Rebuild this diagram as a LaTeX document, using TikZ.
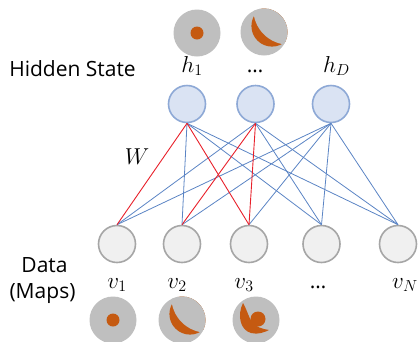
\documentclass[tikz,border=0pt]{standalone}
\usepackage{graphicx}
\usepackage{fontspec}
\setmainfont{Open Sans}
\definecolor{hidFill}{HTML}{DAE3F3}
\definecolor{hidEdge}{HTML}{8EA9D6}
\definecolor{visFill}{HTML}{F0F0F0}
\definecolor{visEdge}{HTML}{A6A6A6}
\definecolor{thumbGray}{HTML}{BFBFBF}
\definecolor{rust}{HTML}{C55A11}
\definecolor{wireBlue}{HTML}{5B84C4}
\definecolor{wireRed}{HTML}{E8202A}
% math labels, set at 20.74pt and enlarged
\newcommand\bigmath[1]{\scalebox{1.11}{$#1$}}
\begin{document}
\begin{tikzpicture}[x=1pt,y=-1pt,
  hid/.style={circle, draw=hidEdge, fill=hidFill, line width=1.6pt, minimum size=37pt, inner sep=0pt},
  vis/.style={circle, draw=visEdge, fill=visFill, line width=1.6pt, minimum size=37pt, inner sep=0pt},
  thumb/.style={circle, fill=thumbGray, minimum size=47pt, inner sep=0pt},
  wire/.style={draw=wireBlue, line width=0.8pt},
  hot/.style={draw=wireRed, line width=0.9pt},
  lbl/.style={font=\fontsize{21}{25}\selectfont, inner sep=0pt, anchor=base},
  mlbl/.style={font=\fontsize{20.74}{25}\selectfont, inner sep=0pt, anchor=base},
  moon/.pic={
    \begin{scope}
      \clip (0,0) circle[radius=23.5];
      \fill[rust] (8,-6) circle[radius=20.6];
      \fill[thumbGray] (25,-23) circle[radius=35.7];
    \end{scope}
  },
  dot/.pic={\fill[rust] (0,0) circle[radius=6.5];},
  blob/.pic={
    \fill[rust] (-13,-17) .. controls (-19,-5) and (-16,10) .. (-5,13)
      .. controls (2,15) and (9,12) .. (13,10)
      .. controls (6,9) and (0,7) .. (-4,2)
      .. controls (-7,-2) and (-9,-10) .. cycle;
    \fill[rust] (2,-1) circle[radius=7.5];
  },
]
\useasboundingbox (0,0) rectangle (418,341);

% hidden units
\node[hid] (h1) at (187,104) {};
\node[hid] (h2) at (255.5,104) {};
\node[hid] (h3) at (331,104) {};

% visible units
\node[vis] (v1) at (117,244) {};
\node[vis] (v2) at (182,244) {};
\node[vis] (v3) at (249,244) {};
\node[vis] (v4) at (321.5,244) {};
\node[vis] (v5) at (398,244) {};

% weights
\foreach \h/\v in {h1/v2,h1/v4,h1/v5,h2/v1,h2/v4,h2/v5,h3/v1,h3/v2,h3/v3,h3/v4,h3/v5}
  \draw[wire] (\h.south) -- (\v.north);
\foreach \h/\v in {h1/v1,h1/v3,h2/v2,h2/v3}
  \draw[hot] (\h.south) -- (\v.north);

% labels
\node[lbl] (hs) at (72.5,76) {Hidden State};
\node[mlbl] (lh1) at (192,72) {\bigmath{h_1}};
\node[lbl] (ldots) at (255,72) {…};
\node[mlbl] (lhD) at (336.5,72) {\bigmath{h_D}};
\node[mlbl] (w) at (137,164) {\bigmath{W}};
\node[lbl] (data) at (44.5,272) {Data};
\node[lbl] (maps) at (42.5,298) {(Maps)};
\node[mlbl] (lv1) at (117,288) {\bigmath{v_1}};
\node[mlbl] (lv2) at (177,288) {\bigmath{v_2}};
\node[mlbl] (lv3) at (244,288) {\bigmath{v_3}};
\node[lbl] (lvdots) at (318,288) {…};
\node[mlbl] (lvN) at (405,288) {\bigmath{v_N}};

% thumbnails of the maps
\node[thumb] (t1) at (197,33) {};
\node[thumb] (t2) at (264,32) {};
\node[thumb] (m1) at (113,320) {};
\node[thumb] (m2) at (182,320) {};
\node[thumb] (m3) at (256,320) {};
\pic at (t1) {dot};
\pic at (t2) {moon};
\pic at (m1) {dot};
\pic at (m2) {moon};
\pic at (m3) {blob};
\end{tikzpicture}
\end{document}
